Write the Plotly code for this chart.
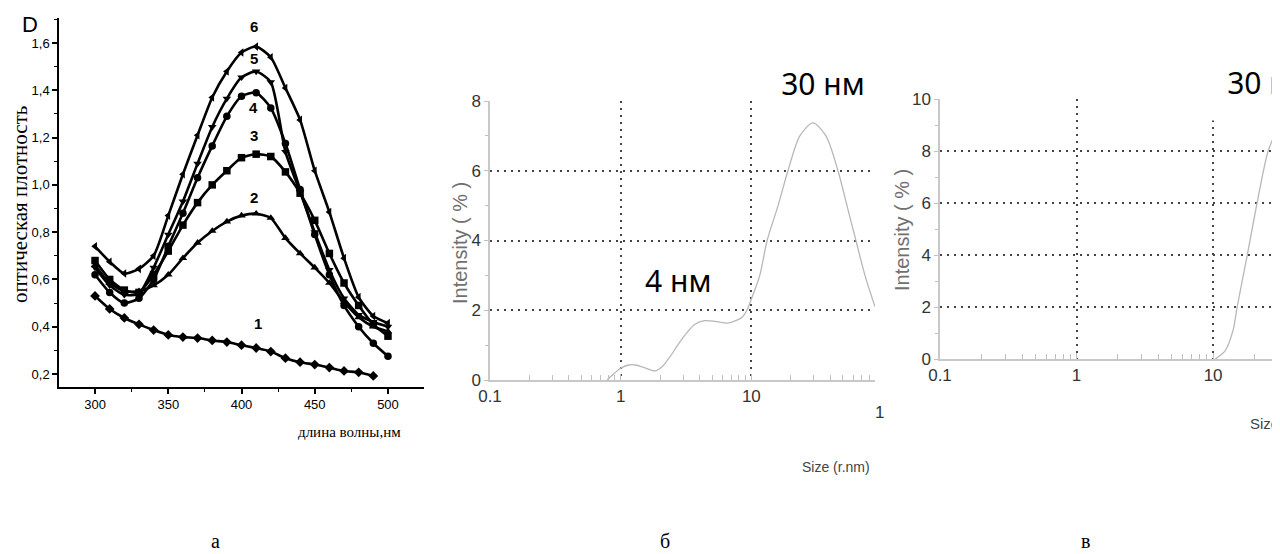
import plotly.graph_objects as go

# page body has an 8px margin: the figure is drawn from (8, 8)
OFF = 8
FW, FH = 1280 - OFF, 554 - OFF

# ---------------- Panel a data ----------------
wavelength = [300, 310, 320, 330, 340, 350, 360, 370, 380, 390, 400,
              410, 420, 430, 440, 450, 460, 470, 480, 490, 500]
wavelength_1 = wavelength[:-1]
curve1 = [0.53, 0.475, 0.437, 0.41, 0.386, 0.365, 0.356, 0.352, 0.342, 0.335,
          0.322, 0.31, 0.295, 0.267, 0.25, 0.24, 0.227, 0.213, 0.207, 0.192]
curve2 = [0.66, 0.585, 0.55, 0.55, 0.575, 0.62, 0.69, 0.755, 0.805, 0.845, 0.87,
          0.878, 0.86, 0.775, 0.71, 0.65, 0.585, 0.505, 0.44, 0.40, 0.38]
curve3 = [0.68, 0.60, 0.555, 0.545, 0.62, 0.72, 0.83, 0.925, 1.0, 1.06, 1.115,
          1.13, 1.12, 1.055, 0.965, 0.85, 0.71, 0.585, 0.49, 0.41, 0.36]
curve4 = [0.62, 0.545, 0.50, 0.52, 0.60, 0.74, 0.88, 1.03, 1.165, 1.29, 1.375,
          1.39, 1.325, 1.175, 0.98, 0.79, 0.62, 0.49, 0.40, 0.33, 0.275]
curve5 = [0.65, 0.575, 0.535, 0.54, 0.65, 0.79, 0.93, 1.09, 1.245, 1.365, 1.455,
          1.48, 1.435, 1.14, 0.97, 0.80, 0.64, 0.52, 0.45, 0.42, 0.40]
curve6 = [0.74, 0.675, 0.625, 0.645, 0.70, 0.87, 1.045, 1.21, 1.37, 1.48, 1.56,
          1.585, 1.54, 1.41, 1.275, 1.06, 0.885, 0.69, 0.525, 0.445, 0.415]
curve_labels = ["1", "2", "3", "4", "5", "6"]
curve_symbols = ["diamond", "triangle-up", "square", "circle", "triangle-down", "triangle-left"]

a_xticks = [300, 350, 400, 450, 500]
a_xminor = [275, 325, 375, 425, 475, 525]
a_yticks = [0.2, 0.4, 0.6, 0.8, 1.0, 1.2, 1.4, 1.6]
a_yticktext = ["0,2", "0,4", "0,6", "0,8", "1,0", "1,2", "1,4", "1,6"]
a_yminor = [0.3, 0.5, 0.7, 0.9, 1.1, 1.3, 1.5, 1.7]

# ---------------- Panel b data ----------------
size_b = [0.785, 0.9, 1.0, 1.15, 1.3, 1.5, 1.83, 2.07, 2.4, 2.73, 3.2, 3.7, 4.4,
          5.3, 6.6, 7.6, 8.5, 9.25, 10.3, 11.6, 13.2, 16.0, 19.05, 23.5, 29.6,
          37.2, 46.0, 53.9, 63.1, 74.0, 88.3]
int_b = [0.0, 0.2, 0.34, 0.43, 0.43, 0.36, 0.26, 0.38, 0.68, 1.0, 1.35, 1.6, 1.7,
         1.68, 1.63, 1.7, 1.8, 2.0, 2.45, 3.0, 4.0, 5.0, 6.0, 7.0, 7.37,
         7.0, 6.0, 5.0, 4.0, 3.0, 2.1]

# ---------------- Panel c data ----------------
size_c = [10.35, 12.2, 14.0, 15.0, 17.8, 21.0, 25.3, 29.4, 33.0]
int_c = [0.0, 0.3, 1.1, 2.0, 4.0, 6.0, 8.0, 8.8, 9.3]

log_ticks = [0.1, 1, 10]
log_ticktext = ["0.1", "1", "10"]
log_minor = [0.2, 0.3, 0.4, 0.5, 0.6, 0.7, 0.8, 0.9,
             2, 3, 4, 5, 6, 7, 8, 9, 20, 30, 40, 50, 60, 70, 80]
b_yticks = [0, 2, 4, 6, 8]
b_yminor = [1, 3, 5, 7]
c_yticks = [0, 2, 4, 6, 8, 10]
c_yminor = [1, 3, 5, 7, 9]

SANS = "Liberation Sans Narrow, Liberation Sans, Arial, sans-serif"
SERIF = "Liberation Serif, Times New Roman, serif"
CAL = "Noto Sans, Open Sans, sans-serif"


def px(x):
    return (x - OFF) / FW


def py(y):
    return 1 - (y - OFF) / FH


fig = go.Figure()

# Panel a traces
for ys, sym, xs in zip([curve1, curve2, curve3, curve4, curve5, curve6], curve_symbols,
                       [wavelength_1] + [wavelength] * 5):
    fig.add_trace(go.Scatter(
        x=xs, y=ys, mode="lines+markers", xaxis="x", yaxis="y",
        line=dict(color="black", width=2.6, shape="spline", smoothing=0.6),
        marker=dict(symbol=sym, size=7.5, color="black"),
        showlegend=False, hoverinfo="skip"))

# Panel b trace
fig.add_trace(go.Scatter(x=size_b, y=int_b, mode="lines", xaxis="x2", yaxis="y2",
                         line=dict(color="#b8b8b8", width=1.3, shape="spline", smoothing=0.8),
                         showlegend=False, hoverinfo="skip"))
# Panel c trace
fig.add_trace(go.Scatter(x=size_c, y=int_c, mode="lines", xaxis="x3", yaxis="y3",
                         line=dict(color="#b8b8b8", width=1.3, shape="spline", smoothing=0.8),
                         showlegend=False, hoverinfo="skip"))

axis_a = dict(showline=True, linecolor="black", linewidth=1.5, ticks="outside",
              ticklen=5, tickwidth=1.5, tickcolor="black", showgrid=False, zeroline=False,
              automargin=False, tickfont=dict(family=SANS, size=13, color="black"))
grid_common = dict(showline=True, linecolor="#c8c8c8", linewidth=1.5, zeroline=False,
                   showgrid=True, gridcolor="#444444", griddash="2px,5px", gridwidth=2,
                   tickcolor="#c0c0c0", tickwidth=1.2, automargin=False,
                   tickfont=dict(family=SANS, size=17, color="#333333"))

fig.update_layout(
    width=FW, height=FH, margin=dict(l=0, r=0, t=0, b=0, autoexpand=False),
    paper_bgcolor="white", plot_bgcolor="white",
    xaxis=dict(domain=[px(59), px(424)], range=[275.4, 524.6], anchor="y",
               tickmode="array", tickvals=a_xticks, ticktext=[str(v) for v in a_xticks],
               minor=dict(tickmode="array", tickvals=a_xminor, ticks="outside", ticklen=3,
                          tickwidth=1.2, tickcolor="black"),
               **axis_a),
    yaxis=dict(domain=[py(387), py(18)], range=[0.145, 1.706], anchor="x",
               tickmode="array", tickvals=a_yticks, ticktext=a_yticktext,
               minor=dict(tickmode="array", tickvals=a_yminor, ticks="outside", ticklen=3,
                          tickwidth=1.2, tickcolor="black"),
               **axis_a),
    xaxis2=dict(domain=[px(490), px(875)], type="log", range=[-1, 1.946], anchor="y2",
                tickmode="array", tickvals=log_ticks, ticktext=log_ticktext,
                ticks="inside", ticklen=6,
                minor=dict(tickmode="array", tickvals=log_minor, ticks="inside", ticklen=5,
                           tickcolor="#c0c0c0", showgrid=False),
                **grid_common),
    yaxis2=dict(domain=[py(380), py(101)], range=[0, 8], anchor="x2",
                tickmode="array", tickvals=b_yticks, ticktext=[str(v) for v in b_yticks],
                ticks="outside", ticklen=4,
                minor=dict(tickmode="array", tickvals=b_yminor, ticks="outside", ticklen=3,
                           tickcolor="#c0c0c0", showgrid=False),
                **grid_common),
    xaxis3=dict(domain=[px(940), 1.0], type="log", range=[-1, 1.49], anchor="y3",
                tickmode="array", tickvals=log_ticks, ticktext=log_ticktext,
                ticks="inside", ticklen=6,
                minor=dict(tickmode="array", tickvals=log_minor, ticks="inside", ticklen=5,
                           tickcolor="#c0c0c0", showgrid=False),
                **grid_common),
    yaxis3=dict(domain=[py(359), py(99)], range=[0, 10], anchor="x3",
                tickmode="array", tickvals=c_yticks, ticktext=[str(v) for v in c_yticks],
                ticks="outside", ticklen=4,
                minor=dict(tickmode="array", tickvals=c_yminor, ticks="outside", ticklen=3,
                           tickcolor="#c0c0c0", showgrid=False),
                **grid_common),
)

ann = []


def add(text, x, y, size, family=SANS, color="black", angle=0, xanchor="center",
        yanchor="middle", **kw):
    ann.append(dict(text=text, x=px(x), y=py(y), xref="paper", yref="paper",
                    showarrow=False, textangle=angle, xanchor=xanchor, yanchor=yanchor,
                    font=dict(family=family, size=size, color=color), **kw))


# panel a texts
add("D", 30, 24, 22)
label_pos = {"6": (254, 27), "5": (254, 58), "4": (253, 107), "3": (254, 135),
             "2": (254, 197), "1": (258, 323)}
for lab in curve_labels:
    xx, yy = label_pos[lab]
    add("<b>" + lab + "</b>", xx, yy, 15)
add("оптическая плотность", 20, 205, 21, family=SERIF, angle=-90)
add("длина волны,нм", 349, 432, 15, family=SERIF)

# panel b texts
add("Intensity ( % )", 460, 243, 20, color="#707070", angle=-90)
add("30 нм", 823, 83, 30, family=CAL, bgcolor="white", width=132, height=34, borderpad=4)
add("4 нм", 678, 280, 30, family=CAL)
add("Size (r.nm)", 836, 467, 14, color="#444444")
add("1", 873, 412, 17, color="#333333", xanchor="left")

# panel c texts
add("Intensity ( % )", 902, 230, 20, color="#707070", angle=-90)
add("30 нм", 1203, 82, 30, family=CAL, xanchor="left", bgcolor="white",
    width=122, height=68, borderpad=4)
add("Size (r.nm)", 1248, 423, 15, color="#444444", xanchor="left")

# captions
add("а", 215, 541, 20, family=SERIF)
add("б", 665, 541, 20, family=SERIF)
add("в", 1085, 541, 20, family=SERIF)

fig.update_layout(annotations=ann)

fig.write_html("out.html")
